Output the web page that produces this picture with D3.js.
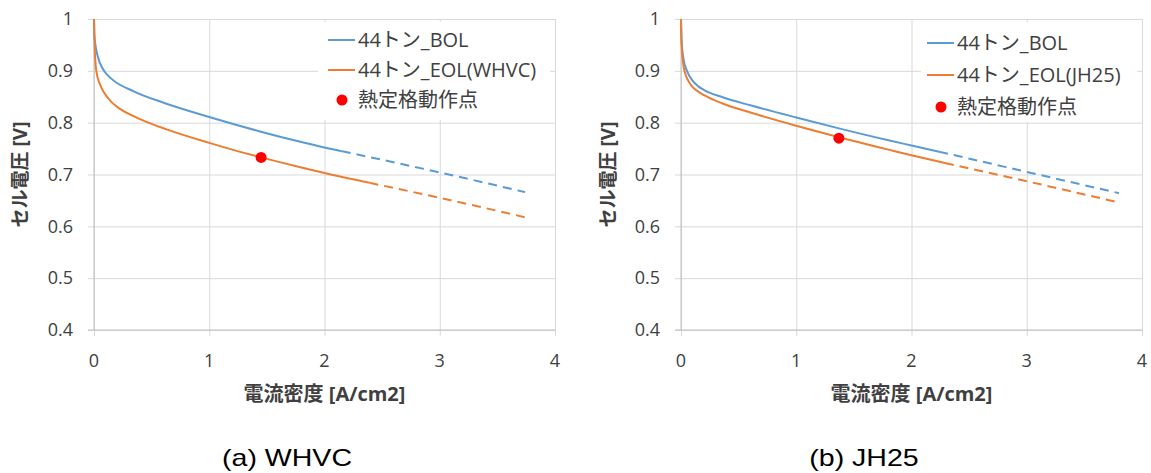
<!DOCTYPE html>
<html>
<head>
<meta charset="utf-8">
<script src="https://cdn.jsdelivr.net/npm/d3@7"></script>
<style>
	body { margin: 0; background: #fff; }
	svg { display: block; }
	text { font-family: "Open Sans", "Noto Sans CJK JP", sans-serif; }
	.grid line { stroke: #d9d9d9; stroke-width: 1; }
</style>
</head>
<body>
<svg id="chart" width="1151" height="473"></svg>
<script>
/*=================
=== The data
=================*/
var xTicks = [0, 1, 2, 3, 4];
var yTicks = [0.4, 0.5, 0.6, 0.7, 0.8, 0.9, 1];

// (a) WHVC  [current density A/cm2, cell voltage V]
var whvcBolSolid = [[0, 1], [0.003, 0.97], [0.01, 0.954], [0.03, 0.93], [0.087, 0.9], [0.15, 0.885], [0.35, 0.86],
	[0.61, 0.838], [1.0, 0.811], [1.2, 0.798], [1.44, 0.783], [1.79, 0.763], [2.0, 0.752], [2.15, 0.745]];
var whvcBolDash = [[2.15, 0.745], [3.0, 0.704], [3.74, 0.666]];
var whvcEolSolid = [[0, 1], [0.005, 0.95], [0.02, 0.9], [0.05, 0.875], [0.087, 0.858], [0.15, 0.84], [0.23, 0.826],
	[0.41, 0.806], [0.63, 0.787], [1.0, 0.761], [1.2, 0.748], [1.45, 0.733], [1.79, 0.714], [2.0, 0.703], [2.39, 0.684]];
var whvcEolDash = [[2.39, 0.684], [3.0, 0.655], [3.77, 0.616]];
var whvcPoint = [[1.45, 0.733]];

// (b) JH25
var jh25BolSolid = [[0, 1], [0.005, 0.96], [0.02, 0.925], [0.052, 0.9], [0.1, 0.881], [0.15, 0.87], [0.2, 0.863],
	[0.36, 0.849], [0.61, 0.833], [1.0, 0.81], [1.37, 0.789], [1.8, 0.766], [2.0, 0.756], [2.24, 0.744]];
var jh25BolDash = [[2.24, 0.744], [3.0, 0.705], [3.8, 0.664]];
var jh25EolSolid = [[0, 1], [0.005, 0.95], [0.03, 0.9], [0.1, 0.869], [0.15, 0.86], [0.2, 0.853], [0.36, 0.837],
	[0.61, 0.819], [1.0, 0.794], [1.37, 0.772], [1.8, 0.748], [2.0, 0.737], [2.29, 0.722]];
var jh25EolDash = [[2.29, 0.722], [3.0, 0.687], [3.78, 0.647]];
var jh25Point = [[1.37, 0.77]];

var legendNames = {
	whvc: ['44トン_BOL', '44トン_EOL(WHVC)', '熱定格動作点'],
	jh25: ['44トン_BOL', '44トン_EOL(JH25)', '熱定格動作点']
};

/*=================
=== The vars
=================*/
var blue = '#5b9bd5';
var orange = '#ed7d31';
var svg = d3.select('#chart');

var panels = [
	{
		left: 94, right: 555, top: 19, bottom: 330, ytitleX: 20, capX: 287,
		bol: whvcBolSolid, bolDash: whvcBolDash, eol: whvcEolSolid, eolDash: whvcEolDash, pt: whvcPoint,
		names: legendNames.whvc, caption: '(a) WHVC',
		legend: { x: 318, y: 22, w: 232, h: 98, lx: 328, rows: [40, 70, 100] }
	},
	{
		left: 681, right: 1142, top: 19, bottom: 330, ytitleX: 608, capX: 864,
		bol: jh25BolSolid, bolDash: jh25BolDash, eol: jh25EolSolid, eolDash: jh25EolDash, pt: jh25Point,
		names: legendNames.jh25, caption: '(b) JH25',
		legend: { x: 921, y: 22, w: 216, h: 100, lx: 927, rows: [43, 75, 107] }
	}
];

panels.forEach(drawPanel);

function drawPanel(p) {
	var x = d3.scaleLinear().domain([0, 4]).range([p.left, p.right]);
	var y = d3.scaleLinear().domain([0.4, 1]).range([p.bottom, p.top]);

	var g = svg.append('g');

	// grid + ticks (excel style: lines stick out a bit)
	g.append('g')
		.attr('class', 'grid')
		.attr('transform', 'translate(' + (p.left - 6) + ',0)')
		.call(d3.axisLeft(y).tickValues(yTicks).tickSize(0).tickFormat(''))
		.call(function (s) {
			s.select('.domain').remove();
			s.selectAll('line').attr('x2', p.right - p.left + 6);
		});

	g.append('g')
		.attr('class', 'grid')
		.attr('transform', 'translate(0,' + p.top + ')')
		.call(d3.axisBottom(x).tickValues(xTicks).tickSize(p.bottom - p.top + 6).tickFormat(''))
		.select('.domain').remove();

	// axis lines a bit darker
	g.append('line')
		.attr('x1', x(0)).attr('x2', x(0))
		.attr('y1', p.top).attr('y2', p.bottom)
		.attr('stroke', '#bfbfbf');
	g.append('line')
		.attr('x1', p.left - 6).attr('x2', p.right)
		.attr('y1', p.bottom).attr('y2', p.bottom)
		.attr('stroke', '#bfbfbf');

	// tick labels
	g.selectAll('.ylab')
		.data(yTicks)
		.enter().append('text')
		.attr('x', p.left - 21)
		.attr('y', function (d) { return y(d); })
		.attr('dy', '0.35em')
		.attr('text-anchor', 'end')
		.style('font-size', '18px')
		.attr('fill', '#404040')
		.text(function (d) { return d === 1 ? '1' : d3.format('.1f')(d); });

	g.selectAll('.xlab')
		.data(xTicks)
		.enter().append('text')
		.attr('x', function (d) { return x(d); })
		.attr('y', p.bottom + 31)
		.attr('dy', '0.35em')
		.attr('text-anchor', 'middle')
		.style('font-size', '18px')
		.attr('fill', '#404040')
		.text(function (d) { return d; });

	// axis titles
	g.append('text')
		.attr('transform', 'translate(' + p.ytitleX + ',' + (p.top + p.bottom) / 2 + ') rotate(-90)')
		.attr('text-anchor', 'middle')
		.attr('dy', '0.35em')
		.style('font-size', '19px')
		.style('font-weight', 'bold')
		.attr('fill', '#404040')
		.text('セル電圧 [V]');

	g.append('text')
		.attr('x', (p.left + p.right) / 2)
		.attr('y', 394)
		.attr('dy', '0.35em')
		.attr('text-anchor', 'middle')
		.style('font-size', '20px')
		.style('font-weight', 'bold')
		.attr('fill', '#404040')
		.text('電流密度 [A/cm2]');

	// lines
	var myLine = d3.line()
		.curve(d3.curveMonotoneX)
		.x(function (d) { return x(d[0]); })
		.y(function (d) { return y(d[1]); });

	var series = [
		{ data: p.bol, color: blue, dash: null },
		{ data: p.bolDash, color: blue, dash: '9,6' },
		{ data: p.eol, color: orange, dash: null },
		{ data: p.eolDash, color: orange, dash: '9,6' }
	];

	series.forEach(function (s) {
		g.append('path')
			.datum(s.data)
			.attr('d', myLine)
			.attr('fill', 'none')
			.attr('stroke', s.color)
			.attr('stroke-width', 2)
			.attr('stroke-dasharray', s.dash);
	});

	g.selectAll('.pt')
		.data(p.pt)
		.enter().append('circle')
		.attr('cx', function (d) { return x(d[0]); })
		.attr('cy', function (d) { return y(d[1]); })
		.attr('r', 5.5)
		.attr('fill', '#ff0000');

	// legend
	var L = p.legend;
	g.append('rect')
		.attr('x', L.x).attr('y', L.y)
		.attr('width', L.w).attr('height', L.h)
		.attr('fill', '#fff');

	[blue, orange].forEach(function (c, i) {
		g.append('line')
			.attr('x1', L.lx).attr('x2', L.lx + 27)
			.attr('y1', L.rows[i]).attr('y2', L.rows[i])
			.attr('stroke', c)
			.attr('stroke-width', 2);
	});
	g.append('circle')
		.attr('cx', L.lx + 14).attr('cy', L.rows[2])
		.attr('r', 5.5)
		.attr('fill', '#ff0000');

	p.names.forEach(function (n, i) {
		g.append('text')
			.attr('x', L.lx + 30)
			.attr('y', L.rows[i])
			.attr('dy', '0.35em')
			.style('font-size', '20px')
			.attr('fill', '#404040')
			.text(n);
	});

	// caption (slightly stretched, as in the source picture)
	g.append('text')
		.attr('transform', 'translate(' + p.capX + ',458) scale(1.19,1)')
		.attr('dy', '0.35em')
		.attr('text-anchor', 'middle')
		.style('font-family', '"Liberation Sans", Arial, sans-serif')
		.style('font-size', '24px')
		.attr('fill', '#000')
		.text(p.caption);
}
</script>
</body>
</html>
